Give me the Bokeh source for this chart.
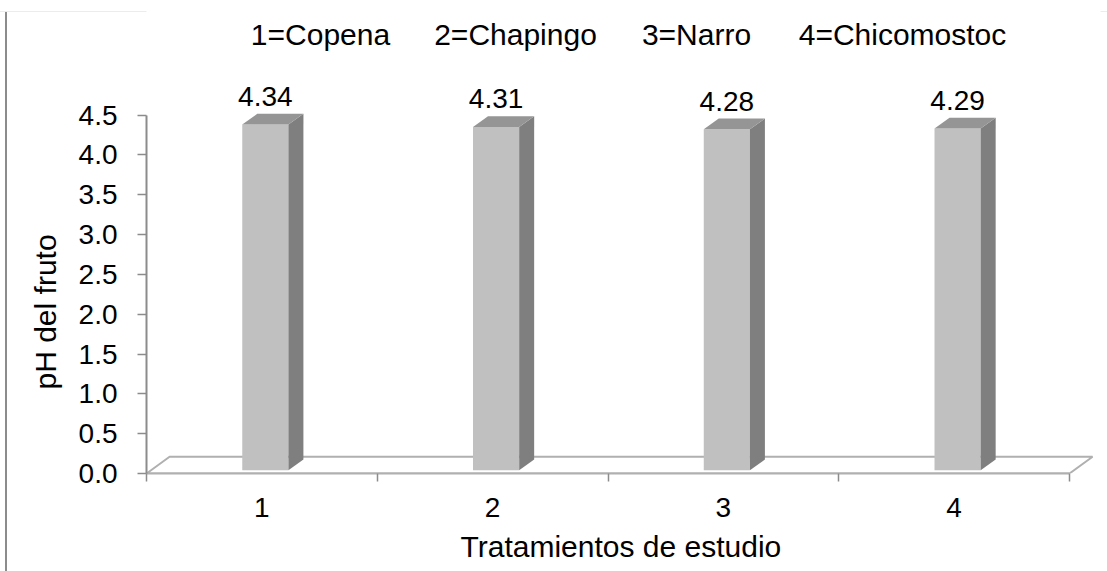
from bokeh.plotting import figure
from bokeh.models import Range1d, FixedTicker, NumeralTickFormatter, Label, Title
from bokeh.embed import file_html
from bokeh.resources import INLINE
from bokeh.core.properties import value

# ---- data -------------------------------------------------------------
categories = ["1", "2", "3", "4"]
ph_values = [4.34, 4.31, 4.28, 4.29]
legend_names = ["1=Copena", "2=Chapingo", "3=Narro", "4=Chicomostoc"]
y_ticks = [0.0, 0.5, 1.0, 1.5, 2.0, 2.5, 3.0, 3.5, 4.0, 4.5]
x_title = "Tratamientos de estudio"
y_title = "pH del fruto"

# ---- layout (pixels) ---------------------------------------------------
W, H = 1107, 571
FRAME_LEFT, FRAME_RIGHT, FRAME_BOTTOM = 146, 1100, 473
PX_PER_X = 230.75          # horizontal pixels per category
PX_PER_Y = 79.66           # vertical pixels per pH unit

FONT = "Liberation Sans"
AXIS_GREY = "#8c8c8c"
FLOOR_GREY = "#b0b0b0"
FRONT = "#c0c0c0"
SIDE = "#7f7f7f"
TOP = "#959595"

# pseudo-3D geometry, in data units
BAR_W = 0.20
BAR_SHIFT = 0.015
BAR_BASE = 0.04
BAR_DX, BAR_DY = 0.065, 0.135
FLOOR_DX, FLOOR_DY = 0.10, 0.21
LABEL_GAP = 0.22

n = len(categories)
x_lo, x_hi = 0.5, n + 0.5
x_end = x_lo + (FRAME_RIGHT - FRAME_LEFT) / PX_PER_X
y_end = FRAME_BOTTOM / PX_PER_Y

p = figure(width=W, height=H, output_backend="svg", toolbar_location=None,
           x_range=Range1d(x_lo, x_end), y_range=Range1d(0, y_end),
           min_border_left=FRAME_LEFT, min_border_right=W - FRAME_RIGHT,
           min_border_top=0, min_border_bottom=H - FRAME_BOTTOM)
p.outline_line_color = None
p.xgrid.grid_line_color = None
p.ygrid.grid_line_color = None
p.background_fill_color = "white"
# the surrounding chart border (left edge, faint top edge) shows through
p.border_fill_alpha = 0
p.styles = {
    "background": "linear-gradient(to bottom, #ffffff 11px, #ececec 11px, "
                  "#ececec 12px, transparent 12px), "
                  "linear-gradient(to right, #ffffff 5px, #8c8c8c 5px, "
                  "#8c8c8c 7px, #ffffff 7px)"
}

# ---- axes --------------------------------------------------------------
xa = p.xaxis[0]
xa.ticker = FixedTicker(ticks=list(range(1, n + 1)),
                        minor_ticks=[k + 0.5 for k in range(n + 1)])
xa.bounds = (x_lo, x_hi)
xa.major_label_overrides = {i + 1: c for i, c in enumerate(categories)}
xa.major_tick_line_color = None
xa.major_tick_out = 8
xa.major_tick_in = 0
xa.minor_tick_out = 8
xa.minor_tick_in = 0
xa.minor_tick_line_color = AXIS_GREY
xa.minor_tick_line_width = 1.5
xa.axis_line_color = FLOOR_GREY
xa.axis_line_width = 2
xa.major_label_text_font = FONT
xa.major_label_text_font_size = "28px"
xa.major_label_text_color = "black"
xa.major_label_standoff = 16

ya = p.yaxis[0]
ya.ticker = FixedTicker(ticks=y_ticks)
ya.bounds = (0, y_ticks[-1])
ya.formatter = NumeralTickFormatter(format="0.0")
ya.major_tick_out = 9
ya.major_tick_in = 0
ya.major_tick_line_color = AXIS_GREY
ya.major_tick_line_width = 1.5
ya.minor_tick_line_color = None
ya.axis_line_color = AXIS_GREY
ya.axis_line_width = 2
ya.major_label_text_font = FONT
ya.major_label_text_font_size = "28px"
ya.major_label_text_color = "black"
ya.major_label_standoff = 20

# ---- axis titles -------------------------------------------------------
p.add_layout(Title(text=x_title, align="left", offset=314, standoff=16,
                   text_font=FONT, text_font_size="30px",
                   text_font_style="normal", text_color="black"), "below")
p.add_layout(Title(text=y_title, align="left", offset=84, standoff=28,
                   text_font=FONT, text_font_size="30px",
                   text_font_style="normal", text_color="black"), "left")

# ---- floor -------------------------------------------------------------
p.patch([x_lo, x_lo + FLOOR_DX, x_hi + FLOOR_DX, x_hi],
        [0, FLOOR_DY, FLOOR_DY, 0],
        fill_color="white", line_color=FLOOR_GREY, line_width=2)

# ---- bars --------------------------------------------------------------
xc = [i + 1 + BAR_SHIFT for i in range(n)]
left = [c - BAR_W / 2 for c in xc]
right = [c + BAR_W / 2 for c in xc]
bottom = [BAR_BASE] * n
top = [v + BAR_BASE for v in ph_values]

p.quad(left=left, right=right, bottom=bottom, top=top,
       fill_color=FRONT, line_color=None)
p.patches([[r, r + BAR_DX, r + BAR_DX, r] for r in right],
          [[b, b + BAR_DY, t + BAR_DY, t] for b, t in zip(bottom, top)],
          fill_color=SIDE, line_color=None)
p.patches([[l, l + BAR_DX, r + BAR_DX, r] for l, r in zip(left, right)],
          [[t, t + BAR_DY, t + BAR_DY, t] for t in top],
          fill_color=TOP, line_color=None)

# value labels above each bar
p.text(x=xc, y=[t + BAR_DY + LABEL_GAP for t in top],
       text=[f"{v:.2f}" for v in ph_values],
       text_align="center", text_baseline="alphabetic",
       text_font=value(FONT), text_font_size="28px", text_color="black")

# ---- legend line of treatment names -------------------------------------
legend_centers = [320, 515, 696, 902]
for name, cx in zip(legend_names, legend_centers):
    p.add_layout(Label(x=cx - FRAME_LEFT, y=FRAME_BOTTOM - 34,
                       x_units="screen", y_units="screen", text=name,
                       text_align="center", text_baseline="alphabetic",
                       text_font=FONT, text_font_size="30px",
                       text_color="black"))

open("out.html", "w").write(file_html(p, INLINE))
